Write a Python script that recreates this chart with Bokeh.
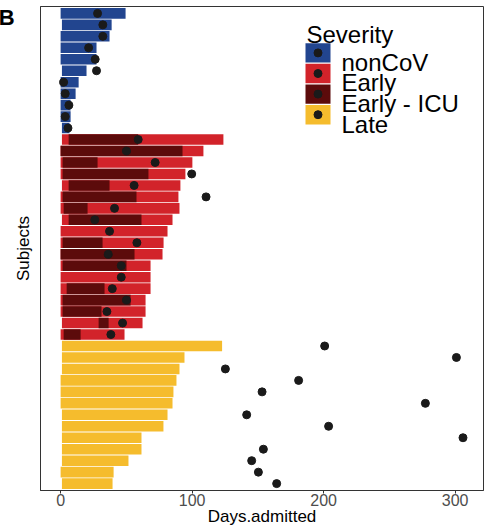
import math
from bokeh.plotting import figure
from bokeh.models import Range1d, FixedTicker, Label
from bokeh.embed import file_html
from bokeh.resources import INLINE

# ---------------- data ----------------
severity_levels = ["nonCoV", "Early", "Early - ICU", "Late"]
severity_colors = ["#22458F", "#D2232A", "#5C0B0B", "#F5BC2D"]

noncov_start = [0, 1, 0, 0, 0, 1, 0, 0, 0, 0, 1]
noncov_end = [49.4, 38.8, 37.2, 27.3, 27.3, 19.7, 13.7, 11.4, 7.6, 7.6, 6.8]
noncov_dot = [28.1, 32.1, 32.1, 21.3, 26.3, 27.3, 2.3, 3.5, 6.3, 3.5, 5.6]

early_start = [1, 0, 0, 0, 1, 0, 0, 1, 0, 0, 0, 0, 0, 0, 0, 0, 1, 0]
early_end = [123.8, 108.6, 100.2, 94.9, 91.1, 89.6, 90.4, 85.1, 81.3, 78.3,
             77.5, 68.4, 68.4, 68.4, 64.6, 64.6, 62.3, 48.6]
icu_start = [6.1, 0, 1.5, 1.5, 6.1, 1.5, 2.3, 6.1, None, 1.5,
             0, 1.5, None, 4.6, 1.5, 1.5, 28.9, 2.3]
icu_end = [59.0, 92.7, 28.1, 66.8, 37.2, 57.7, 20.5, 61.5, None, 31.9,
           56.2, 50.1, None, 33.4, 53.2, 31.1, 36.5, 15.2]
early_dot = [59.0, 50.1, 71.9, 99.7, 55.9, 110.6, 41.0, 26.0, 37.2, 58.0,
             36.2, 46.1, 46.1, 39.3, 50.1, 35.2, 47.1, 38.2]

late_start = [1, 1, 1, 0, 0, 0, 1, 1, 1, 1, 1, 0, 1]
late_end = [122.8, 94.2, 90.4, 88.1, 85.8, 85.1, 81.3, 78.2, 61.5, 61.5, 51.6, 40.3, 39.5]
late_dot = [200.8, 301.0, 125.3, 181.0, 153.2, 277.4, 141.5, 203.8, 306.0,
            154.2, 145.3, 150.4, 164.3]

x_ticks = [0, 100, 200, 300]
panel_tag = "B"

# ---------------- build tables ----------------
groups = (["nonCoV"] * len(noncov_end) + ["Early"] * len(early_end)
          + ["Late"] * len(late_end))
starts = noncov_start + early_start + late_start
ends = noncov_end + early_end + late_end
dots = noncov_dot + early_dot + late_dot
rows = list(range(1, len(ends) + 1))
cmap = dict(zip(severity_levels, severity_colors))
bar_colors = [cmap[g] for g in groups]

n_rows = len(rows)
X_LO, X_HI = -15.3, 321.6
Y_TOP, Y_BOT = 0.4, n_rows + 0.6

W, H = 484, 531
ML, MR, MT, MB = 40, 1, 6, 41

p = figure(width=W, height=H, output_backend="svg", toolbar_location=None,
           x_range=Range1d(X_LO, X_HI), y_range=Range1d(Y_BOT, Y_TOP),
           min_border_left=ML, min_border_right=MR, min_border_top=MT,
           min_border_bottom=MB)

# frame geometry in canvas pixels (for placing the legend)
FL, FR, FT, FB = ML, W - MR, MT, H - MB


def dx(px):
    return X_LO + (px - FL) * (X_HI - X_LO) / (FR - FL)


def dy(py):
    return Y_TOP + (py - FT) * (Y_BOT - Y_TOP) / (FB - FT)


BAR_H = 0.92
p.hbar(y=rows, left=starts, right=ends, height=BAR_H, fill_color=bar_colors,
       line_color=None)

early_rows = rows[len(noncov_end):len(noncov_end) + len(early_end)]
icu_rows = [r for r, s in zip(early_rows, icu_start) if s is not None]
icu_l = [s for s in icu_start if s is not None]
icu_r = [e for e in icu_end if e is not None]
p.hbar(y=icu_rows, left=icu_l, right=icu_r, height=BAR_H,
       fill_color=cmap["Early - ICU"], line_color=None)

p.scatter(x=dots, y=rows, size=8, fill_color="#1A1A1A", line_color="#1A1A1A")

# ---------------- legend (drawn manually, ggplot style) ----------------
LEG_KEY_L, LEG_KEY_R = 305, 330
LEG_TOP0, LEG_STEP, LEG_KH = 42.7, 20.6, 19.4
FONT = "Liberation Sans"
p.add_layout(Label(x=dx(306), y=dy(34.3), text="Severity", text_font=FONT,
                   text_font_size="24px", text_color="black",
                   text_baseline="alphabetic", text_align="left"))
k_left, k_right, k_top, k_bot, k_col, k_cx, k_cy = [], [], [], [], [], [], []
for i, (lab, col) in enumerate(zip(severity_levels, severity_colors)):
    t = LEG_TOP0 + i * LEG_STEP
    k_left.append(dx(LEG_KEY_L)); k_right.append(dx(LEG_KEY_R))
    k_top.append(dy(t)); k_bot.append(dy(t + LEG_KH)); k_col.append(col)
    k_cx.append(dx((LEG_KEY_L + LEG_KEY_R) / 2)); k_cy.append(dy(t + LEG_KH / 2))
    p.add_layout(Label(x=dx(341), y=dy(t + LEG_KH - 0.3), text=lab, text_font=FONT,
                       text_font_size="24px", text_color="black",
                       text_baseline="alphabetic", text_align="left"))
p.quad(left=k_left, right=k_right, top=k_top, bottom=k_bot, fill_color=k_col,
       line_color=None)
p.scatter(x=k_cx, y=k_cy, size=8, fill_color="#1A1A1A", line_color="#1A1A1A")

# ---------------- axes / theme ----------------
p.xgrid.visible = False
p.ygrid.visible = False
p.background_fill_color = "white"
p.border_fill_color = "white"
p.outline_line_color = "#333333"
p.outline_line_width = 1

xa = p.xaxis[0]
xa.ticker = FixedTicker(ticks=x_ticks)
xa.axis_label = "Days.admitted"
xa.axis_label_text_font = FONT
xa.axis_label_text_font_size = "17px"
xa.axis_label_text_font_style = "normal"
xa.axis_label_text_color = "black"
xa.axis_label_standoff = -2
xa.major_label_text_font = FONT
xa.major_label_text_font_size = "16px"
xa.major_label_text_color = "#4D4D4D"
xa.major_label_standoff = 0
xa.major_tick_out = 3
xa.major_tick_in = 0
xa.minor_tick_out = 0
xa.minor_tick_in = 0
xa.axis_line_color = "#333333"
xa.major_tick_line_color = "#333333"

# y axis: no subject ticks; the panel tag "B" sits in the top-left corner
tag_pos = dy(8.5)
ya = p.yaxis[0]
ya.ticker = FixedTicker(ticks=[tag_pos])
ya.major_label_overrides = {tag_pos: panel_tag}
ya.major_label_text_font = FONT
ya.major_label_text_font_size = "22px"
ya.major_label_text_font_style = "bold"
ya.major_label_text_color = "black"
ya.major_label_standoff = 26
ya.axis_label = "Subjects"
ya.axis_label_text_font = FONT
ya.axis_label_text_font_size = "17px"
ya.axis_label_text_font_style = "normal"
ya.axis_label_text_color = "black"
ya.axis_label_standoff = -37
ya.major_tick_out = 0
ya.major_tick_in = 0
ya.minor_tick_out = 0
ya.minor_tick_in = 0
ya.axis_line_color = "#333333"

open("out.html", "w").write(file_html(p, INLINE))
